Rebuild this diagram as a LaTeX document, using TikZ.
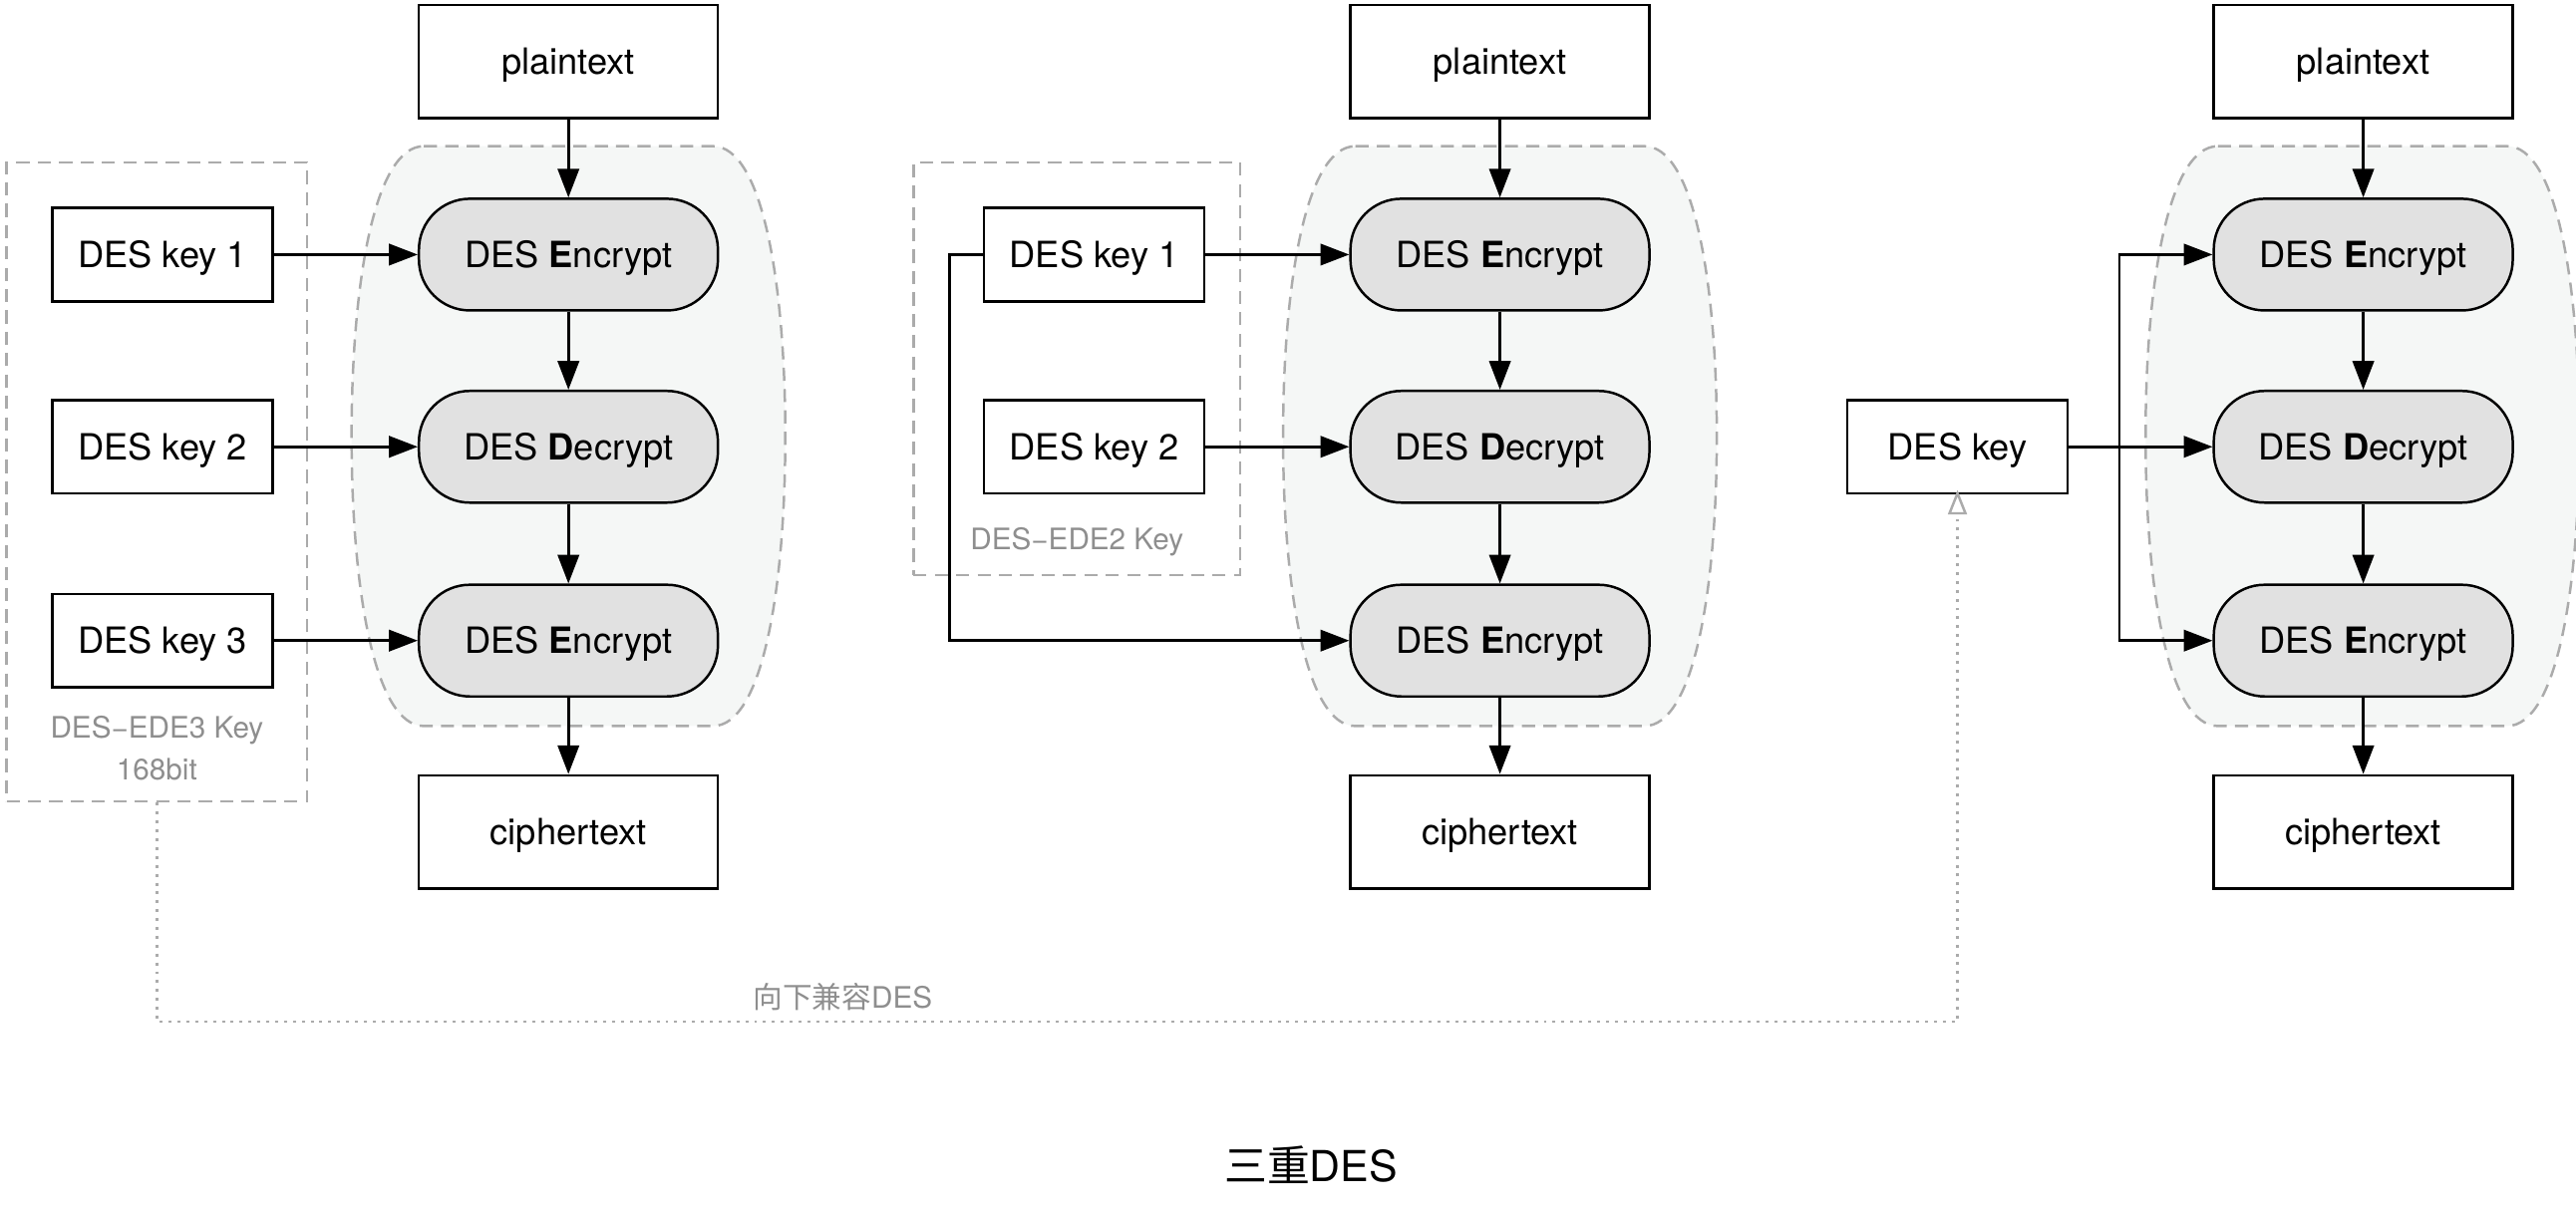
\documentclass[tikz,border=0pt]{standalone}
\usepackage{fontspec}
\setmainfont{TeX Gyre Heros}
\newfontfamily\cjk{Noto Sans CJK SC}
\usetikzlibrary{arrows.meta}
\definecolor{shadefill}{HTML}{F5F7F6}
\definecolor{procfill}{HTML}{E1E1E1}
\definecolor{dashgray}{HTML}{ABABAB}
\definecolor{labgray}{HTML}{8E8E8E}
\tikzset{
  every node/.style={font=\fontsize{22}{26}\selectfont, inner sep=0pt},
  capc/.style={text height=15.8pt, text depth=0pt},
  txtbox/.style={capc, draw, line width=1.5pt, fill=white, minimum width=182pt, minimum height=69pt},
  keybox/.style={capc, draw, line width=1.5pt, fill=white, minimum width=134pt, minimum height=57pt},
  proc/.style={capc, draw, line width=1.5pt, fill=procfill, rounded corners=31pt, minimum width=182pt, minimum height=68pt},
  grp/.style={draw=dashgray, line width=1.5pt, dash pattern=on 8pt off 5pt},
  barrel/.style={draw=dashgray, fill=shadefill, line width=1.5pt, dash pattern=on 8pt off 5pt},
  flow/.style={-{Triangle[length=17.5pt,width=13pt]}, line width=1.6pt},
  dotl/.style={draw=dashgray, line width=1.5pt, dash pattern=on 1.8pt off 3.6pt, -{Triangle[open,length=15pt,width=11.5pt]}},
  glabel/.style={text=labgray, font=\fontsize{18}{25}\selectfont, align=center}
}
\begin{document}
\begin{tikzpicture}[x=1pt,y=-1pt]
\useasboundingbox (0,0) rectangle (1568,738.5);
% shaded barrels
\foreach \c in {346,913,1438}{
  \draw[barrel] ({\c-88},89) -- ({\c+88},89)
    .. controls ({\c+118},89) and ({\c+132},172) .. ({\c+132},265.5)
    .. controls ({\c+132},359) and ({\c+118},442) .. ({\c+88},442)
    -- ({\c-88},442)
    .. controls ({\c-118},442) and ({\c-132},359) .. ({\c-132},265.5)
    .. controls ({\c-132},172) and ({\c-118},89) .. ({\c-88},89) -- cycle;
}
% key groups
\node[grp, minimum width=183pt, minimum height=389pt] (g1) at (95.5,293.5) {};
\node[grp, minimum width=199pt, minimum height=251pt] (g2) at (655.5,224.5) {};
\node[glabel] (l1) at (95.5,455.5) {DES−EDE3 Key\\168bit};
\node[glabel] (l2) at (655.5,330) {DES−EDE2 Key};

% column 1
\node[txtbox] (p1) at (346,37.5) {plaintext};
\node[proc] (a1) at (346,155) {DES \textbf{E}ncrypt};
\node[proc] (b1) at (346,272) {DES \textbf{D}ecrypt};
\node[proc] (c1) at (346,390) {DES \textbf{E}ncrypt};
\node[txtbox] (q1) at (346,506.5) {ciphertext};
\node[keybox] (k11) at (99,155) {DES key 1};
\node[keybox] (k12) at (99,272) {DES key 2};
\node[keybox] (k13) at (99,390) {DES key 3};
\draw[flow] (p1) -- (a1);
\draw[flow] (a1) -- (b1);
\draw[flow] (b1) -- (c1);
\draw[flow] (c1) -- (q1);
\draw[flow] (k11) -- (a1);
\draw[flow] (k12) -- (b1);
\draw[flow] (k13) -- (c1);

% column 2
\node[txtbox] (p2) at (913,37.5) {plaintext};
\node[proc] (a2) at (913,155) {DES \textbf{E}ncrypt};
\node[proc] (b2) at (913,272) {DES \textbf{D}ecrypt};
\node[proc] (c2) at (913,390) {DES \textbf{E}ncrypt};
\node[txtbox] (q2) at (913,506.5) {ciphertext};
\node[keybox] (k21) at (666,155) {DES key 1};
\node[keybox] (k22) at (666,272) {DES key 2};
\draw[flow] (p2) -- (a2);
\draw[flow] (a2) -- (b2);
\draw[flow] (b2) -- (c2);
\draw[flow] (c2) -- (q2);
\draw[flow] (k21) -- (a2);
\draw[flow] (k22) -- (b2);
\coordinate (t2) at (578,155);
\draw[flow] (k21.west) -- (t2) |- (c2.west);

% column 3
\node[txtbox] (p3) at (1438.5,37.5) {plaintext};
\node[proc] (a3) at (1438.5,155) {DES \textbf{E}ncrypt};
\node[proc] (b3) at (1438.5,272) {DES \textbf{D}ecrypt};
\node[proc] (c3) at (1438.5,390) {DES \textbf{E}ncrypt};
\node[txtbox] (q3) at (1438.5,506.5) {ciphertext};
\node[keybox] (k3) at (1191.5,272) {DES key};
\draw[flow] (p3) -- (a3);
\draw[flow] (a3) -- (b3);
\draw[flow] (b3) -- (c3);
\draw[flow] (c3) -- (q3);
\draw[flow] (k3) -- (b3);
\coordinate (t3) at (1290,272);
\draw[flow] (t3) |- (a3.west);
\draw[flow] (t3) |- (c3.west);

% backward compatibility
\coordinate (d1) at (95.5,622);
\draw[dotl] (g1.south) -- (d1) -| ([yshift=3pt]k3.south);
\node[glabel] (bc) at (513,607) {{\cjk 向下兼容}DES};

% title
\node[font=\fontsize{26}{30}\selectfont] (title) at (798,709) {{\cjk 三重}DES};
\end{tikzpicture}
\end{document}
